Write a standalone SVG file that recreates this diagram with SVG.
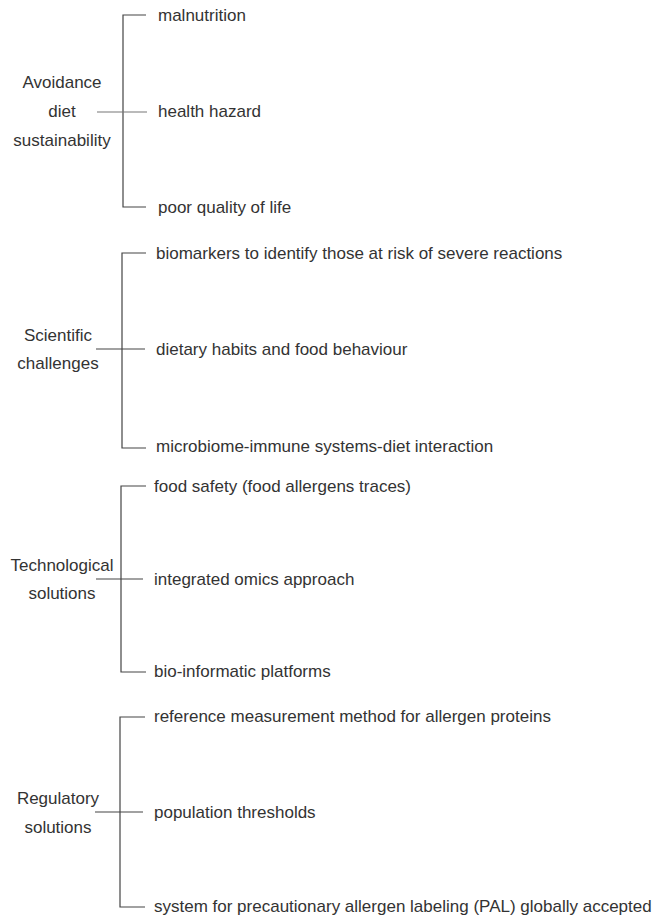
<svg xmlns="http://www.w3.org/2000/svg" width="654" height="918" viewBox="0 0 654 918">
<style>
text{font-family:"Liberation Sans",Arial,sans-serif;font-size:17px;fill:#333;dominant-baseline:central}
.c{text-anchor:middle}
.ln{stroke:#444;stroke-width:1.2;fill:none}
.lg{stroke:#777;stroke-width:1.2;fill:none}
</style>
<rect width="654" height="918" fill="#fff"/>
<g id="connectors">
<path class="ln" d="M146,15 H123 V207 H146"/>
<path class="lg" d="M97,112 H147"/>
<path class="ln" d="M146,253 H122 V448 H146 M96,349 H145"/>
<path class="ln" d="M146,486 H121 V672 H146 M96,579 H143"/>
<path class="ln" d="M145,717 H120 V907 H145 M95,812 H143"/>
</g>
<g id="avoidance"><text class="c" x="62" y="82">Avoidance</text><text class="c" x="62" y="111">diet</text><text class="c" x="62" y="140">sustainability</text></g>
<g id="malnutrition"><text x="158" y="15">malnutrition</text></g>
<g id="health"><text x="158" y="111">health hazard</text></g>
<g id="poor"><text x="158" y="207">poor quality of life</text></g>
<g id="scientific"><text class="c" x="58" y="335">Scientific</text><text class="c" x="58" y="363">challenges</text></g>
<g id="biomarkers"><text x="156" y="253">biomarkers to identify those at risk of severe reactions</text></g>
<g id="dietary"><text x="156" y="349">dietary habits and food behaviour</text></g>
<g id="microbiome"><text x="156" y="446">microbiome-immune systems-diet interaction</text></g>
<g id="technological"><text class="c" x="62" y="565">Technological</text><text class="c" x="62" y="593">solutions</text></g>
<g id="foodsafety"><text x="154" y="486">food safety (food allergens traces)</text></g>
<g id="omics"><text x="154" y="579">integrated omics approach</text></g>
<g id="bioinf"><text x="154" y="671">bio-informatic platforms</text></g>
<g id="regulatory"><text class="c" x="58" y="798">Regulatory</text><text class="c" x="58" y="827">solutions</text></g>
<g id="reference"><text x="154" y="716">reference measurement method for allergen proteins</text></g>
<g id="population"><text x="154" y="812">population thresholds</text></g>
<g id="pal"><text x="154" y="906">system for precautionary allergen labeling (PAL) globally accepted</text></g>
</svg>
